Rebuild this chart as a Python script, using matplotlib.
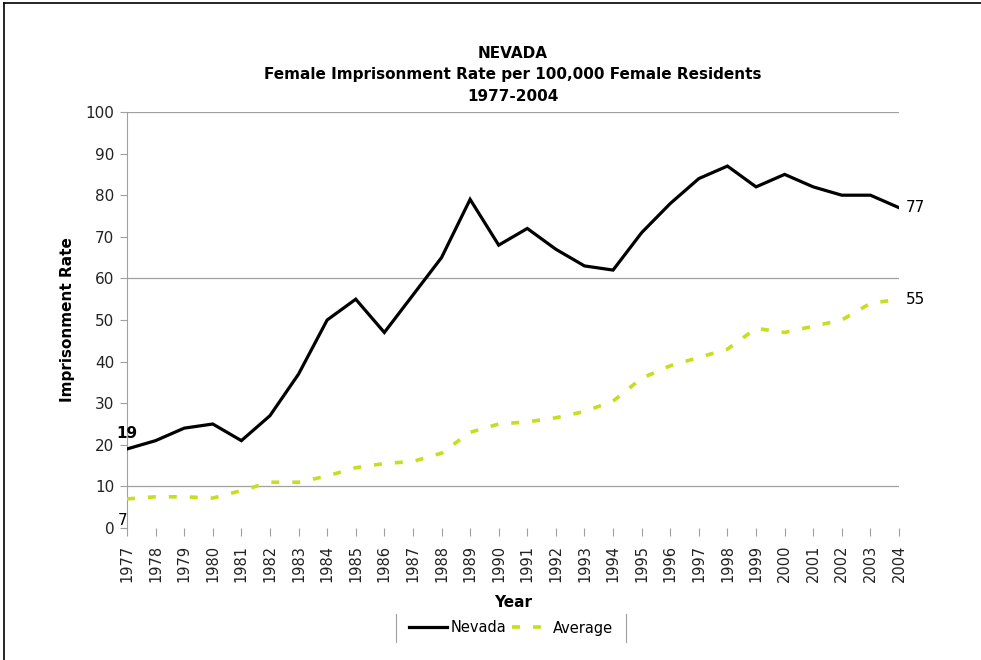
import matplotlib
matplotlib.use("Agg")
import matplotlib.pyplot as plt
from matplotlib.lines import Line2D

years = list(range(1977, 2005))
nevada = [19, 21, 24, 25, 21, 27, 37, 50, 55, 47, 56, 65, 79, 68, 72, 67, 63, 62,
          71, 78, 84, 87, 82, 85, 82, 80, 80, 77]
average = [7, 7.5, 7.5, 7.2, 9, 11, 11, 12.5, 14.5, 15.5, 16, 18, 23, 25, 25.5, 26.5,
           28, 30.5, 36, 39, 41, 43, 48, 47, 48.5, 50, 54, 55]
y_ticks = list(range(0, 101, 10))
grid_values = [10, 60, 100]

plt.rcParams['font.family'] = ['DejaVu Sans']

fig = plt.figure(figsize=(9.81, 6.6), dpi=100)
ax = fig.add_axes([127/981, 1-528/660, (899-127)/981, (528-112)/660])

ax.plot(years, nevada, color='black', lw=2.3, label='Nevada', solid_joinstyle='miter', zorder=3)
ax.plot(years, average, color='#c6de1f', lw=2.6, dashes=(2.2, 3.6), label='Average', zorder=3)

for g in grid_values:
    ax.axhline(g, color='#a0a0a0', lw=0.9, zorder=1)

ax.set_xlim(years[0], years[-1])
ax.set_ylim(0, 100)
ax.set_yticks(y_ticks)
ax.set_xticks(years)
ax.set_xticklabels([str(y) for y in years], rotation=90, fontsize=10.5, color='#222222')
ax.tick_params(axis='y', labelsize=11, colors='#222222', length=5, color='#a0a0a0', pad=4)
ax.tick_params(axis='x', length=6, color='#a0a0a0', pad=6)

for s in ['top', 'right', 'bottom']:
    ax.spines[s].set_visible(False)
ax.spines['left'].set_color('#a0a0a0')

ax.set_xlabel('Year', fontsize=11, fontweight='bold', labelpad=9)
ax.set_ylabel('Imprisonment Rate', fontsize=11, fontweight='bold', labelpad=8)

ax.set_title('NEVADA\nFemale Imprisonment Rate per 100,000 Female Residents\n1977-2004',
             fontsize=11, fontweight='bold', linespacing=1.55, pad=8)

# data labels
ax.annotate(str(nevada[0]), (years[0], nevada[0]), xytext=(-8, 6), textcoords='offset points',
            fontsize=11, fontweight='bold', ha='left', va='bottom')
ax.annotate(str(average[0]), (years[0], average[0]), xytext=(-7, -10), textcoords='offset points',
            fontsize=11, ha='left', va='top')
ax.annotate(str(nevada[-1]), (years[-1], nevada[-1]), xytext=(5, 0), textcoords='offset points',
            fontsize=11, ha='left', va='center')
ax.annotate(str(average[-1]), (years[-1], average[-1]), xytext=(5, 0), textcoords='offset points',
            fontsize=11, ha='left', va='center')

leg = fig.legend(loc='center', bbox_to_anchor=(511/981, 1-628/660), ncol=2, frameon=False,
                 fontsize=10.5, handlelength=2.6, handletextpad=0.2, columnspacing=0.4)

# legend side bars and outer border
fig.add_artist(Line2D([396/981, 396/981], [1-614/660, 1-642/660], color='#a0a0a0', lw=0.8))
fig.add_artist(Line2D([626/981, 626/981], [1-614/660, 1-642/660], color='#a0a0a0', lw=0.8))
fig.add_artist(Line2D([4/981, 1.0], [1-3/660, 1-3/660], color='black', lw=1.2))
fig.add_artist(Line2D([4/981, 4/981], [0, 1-3/660], color='black', lw=1.2))

fig.savefig('out.png', dpi=100)
